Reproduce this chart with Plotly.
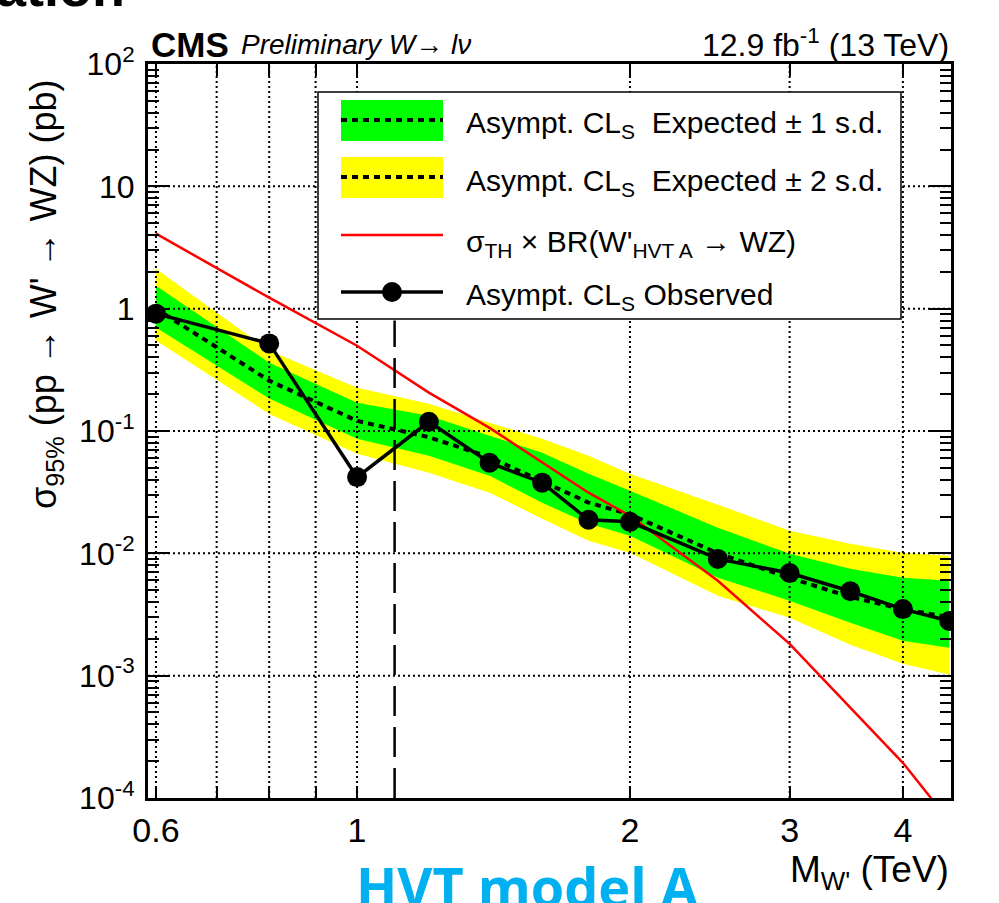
import math
import plotly.graph_objects as go

# ---------------- data ----------------
mass = [0.6, 0.8, 1.0, 1.2, 1.4, 1.6, 1.8, 2.0, 2.5, 3.0, 3.5, 4.0, 4.5]
observed = [0.91, 0.52, 0.042, 0.119, 0.055, 0.0378, 0.0188, 0.0181, 0.0090, 0.0069, 0.0049, 0.0035, 0.0028]
expected = [1.0, 0.258, 0.121, 0.089, 0.061, 0.039, 0.026, 0.0208, 0.0100, 0.0063, 0.0044, 0.0035, 0.0030]
exp_plus2 = [2.12, 0.454, 0.226, 0.167, 0.117, 0.0865, 0.0628, 0.0448, 0.0250, 0.0153, 0.0120, 0.0101, 0.00955]
exp_plus1 = [1.54, 0.362, 0.170, 0.133, 0.0916, 0.0665, 0.0448, 0.0325, 0.0162, 0.00993, 0.00748, 0.00632, 0.00597]
exp_minus1 = [0.70, 0.184, 0.0865, 0.0628, 0.0431, 0.0259, 0.0175, 0.0139, 0.00632, 0.00410, 0.00271, 0.00193, 0.00169]
exp_minus2 = [0.55, 0.138, 0.0652, 0.0456, 0.0313, 0.0192, 0.0127, 0.0101, 0.00450, 0.00297, 0.00179, 0.00125, 0.00102]
theory_mass = [0.6, 0.8, 1.0, 1.2, 1.4, 1.6, 1.8, 2.0, 2.5, 3.0, 3.5, 4.0, 4.5]
theory_xsec = [4.1, 1.23, 0.498, 0.206, 0.106, 0.0551, 0.0313, 0.0203, 0.00597, 0.00182, 0.000547, 0.000194, 0.000065]
mass_limit = 1.1
limit_line_y = [1e-4, 0.8]

x_range = [0.588, 4.52]
y_range = [1e-4, 1e2]
x_ticks = [0.6, 0.7, 0.8, 0.9, 1, 2, 3, 4]
x_ticktext = ["0.6", "", "", "", "1", "2", "3", "4"]
y_ticks = [1e-4, 1e-3, 1e-2, 1e-1, 1, 10, 100]
y_ticktext = ["10<sup>-4</sup>", "10<sup>-3</sup>", "10<sup>-2</sup>", "10<sup>-1</sup>", "1", "10", "10<sup>2</sup>"]
y_minor = [k * 10 ** d for d in range(-4, 2) for k in range(2, 10)]

# ---------------- geometry helpers (pixels -> paper) ----------------
W, H = 999, 903
L, R, T, B = 148, 951, 64, 798


def px(x):
    return (x - L) / (R - L)


def py(y):
    return (B - y) / (B - T)


FONT = "Liberation Sans, Arial, Helvetica, sans-serif"
YELLOW = "#FFFF00"
GREEN = "#00FF00"

fig = go.Figure()

# yellow band
fig.add_trace(go.Scatter(x=mass, y=exp_minus2, mode="lines", line=dict(width=0, color=YELLOW),
                         hoverinfo="skip"))
fig.add_trace(go.Scatter(x=mass, y=exp_plus2, mode="lines", line=dict(width=0, color=YELLOW),
                         fill="tonexty", fillcolor=YELLOW, hoverinfo="skip"))
# green band
fig.add_trace(go.Scatter(x=mass, y=exp_minus1, mode="lines", line=dict(width=0, color=GREEN),
                         hoverinfo="skip"))
fig.add_trace(go.Scatter(x=mass, y=exp_plus1, mode="lines", line=dict(width=0, color=GREEN),
                         fill="tonexty", fillcolor=GREEN, hoverinfo="skip"))

# dotted grid lines at the tick positions, drawn over the bands
grid_line = dict(color="black", width=2, dash="2px,3px")
for xv in x_ticks:
    fig.add_trace(go.Scatter(x=[xv, xv], y=y_range, mode="lines", line=grid_line, hoverinfo="skip"))
for yv in y_ticks[1:-1]:
    fig.add_trace(go.Scatter(x=x_range, y=[yv, yv], mode="lines", line=grid_line, hoverinfo="skip"))

# expected
fig.add_trace(go.Scatter(x=mass, y=expected, mode="lines",
                         line=dict(color="black", width=4, dash="6px,5px")))
# theory
fig.add_trace(go.Scatter(x=theory_mass, y=theory_xsec, mode="lines",
                         line=dict(color="#FF0000", width=2.5)))
# mass limit dashed line
fig.add_trace(go.Scatter(x=[mass_limit, mass_limit], y=limit_line_y, mode="lines",
                         line=dict(color="black", width=2.5, dash="30px,11px")))
# observed
fig.add_trace(go.Scatter(x=mass, y=observed, mode="lines+markers",
                         line=dict(color="black", width=3.5),
                         marker=dict(color="black", size=20, symbol="circle")))

shapes = []
# legend box
shapes.append(dict(type="rect", xref="paper", yref="paper", x0=px(318), x1=px(901), y0=py(319), y1=py(92),
                   line=dict(color="black", width=1.5), fillcolor="white", layer="above"))
# legend glyphs
gx0, gx1 = px(341), px(443)
shapes.append(dict(type="rect", xref="paper", yref="paper", x0=gx0, x1=gx1, y0=py(141), y1=py(100),
                   line=dict(width=0), fillcolor=GREEN, layer="above"))
shapes.append(dict(type="line", xref="paper", yref="paper", x0=gx0, x1=gx1, y0=py(120), y1=py(120),
                   line=dict(color="black", width=4, dash="6px,5px"), layer="above"))
shapes.append(dict(type="rect", xref="paper", yref="paper", x0=gx0, x1=gx1, y0=py(198), y1=py(157),
                   line=dict(width=0), fillcolor=YELLOW, layer="above"))
shapes.append(dict(type="line", xref="paper", yref="paper", x0=gx0, x1=gx1, y0=py(177), y1=py(177),
                   line=dict(color="black", width=4, dash="6px,5px"), layer="above"))
shapes.append(dict(type="line", xref="paper", yref="paper", x0=gx0, x1=gx1, y0=py(235), y1=py(235),
                   line=dict(color="#FF0000", width=2.5), layer="above"))
shapes.append(dict(type="line", xref="paper", yref="paper", x0=gx0, x1=gx1, y0=py(292), y1=py(292),
                   line=dict(color="black", width=3.5), layer="above"))
shapes.append(dict(type="circle", xref="paper", yref="paper", x0=px(382), x1=px(402), y0=py(302), y1=py(282),
                   line=dict(color="black", width=0), fillcolor="black", layer="above"))

annotations = []


def ann(text, x, y, size, xanchor="left", yanchor="middle", color="black", family=FONT, angle=0):
    annotations.append(dict(text=text, x=px(x), y=py(y), xref="paper", yref="paper", showarrow=False,
                            xanchor=xanchor, yanchor=yanchor, textangle=angle,
                            font=dict(size=size, color=color, family=family)))


leg_size = 30
ann("Asympt. CL<sub>S</sub>  Expected ± 1 s.d.", 464, 125, leg_size)
ann("Asympt. CL<sub>S</sub>  Expected ± 2 s.d.", 464, 182, leg_size)
ann("σ<sub>TH</sub> × BR(W'<sub>HVT A</sub> → WZ)", 464, 243, leg_size)
ann("Asympt. CL<sub>S</sub> Observed", 464, 296, leg_size)

ann("<b>CMS</b>", 149, 44, 35)
ann("<i>Preliminary W→ lν</i>", 239, 45, 28)
ann("12.9 fb<sup>-1</sup> (13 TeV)", 951, 43, 32, xanchor="right")
ann("M<sub>W'</sub> (TeV)", 951, 872, 37, xanchor="right")
ann("σ<sub>95%</sub> (pp → W' → WZ) (pb)", 46, 294, 36, xanchor="center", angle=-90)
ann("<b>HVT model A</b>", 527, 886, 54, xanchor="center", color="#00B0F0", family="Open Sans, sans-serif")
ann("<b>ation</b>", -6, 19, 54, yanchor="bottom")

fig.update_layout(
    width=W, height=H,
    margin=dict(l=L, r=W - R, t=T, b=H - B, pad=0),
    paper_bgcolor="white", plot_bgcolor="white",
    showlegend=False,
    shapes=shapes, annotations=annotations,
    font=dict(family=FONT, color="black"),
    xaxis=dict(type="log", range=[math.log10(x_range[0]), math.log10(x_range[1])],
               tickmode="array", tickvals=x_ticks, ticktext=x_ticktext,
               ticks="inside", ticklen=12, tickwidth=2, tickcolor="black",
               showline=True, linewidth=3, linecolor="black", mirror="ticks",
               showgrid=False, zeroline=False, tickfont=dict(size=34, family=FONT, color="black"),
               layer="above traces"),
    yaxis=dict(type="log", range=[-4, 2],
               tickmode="array", tickvals=y_ticks, ticktext=y_ticktext,
               ticks="inside", ticklen=22, tickwidth=2, tickcolor="black",
               minor=dict(tickmode="array", tickvals=y_minor, ticks="inside", ticklen=11,
                          tickwidth=2, tickcolor="black", showgrid=False),
               showline=True, linewidth=3, linecolor="black", mirror="ticks",
               showgrid=False, zeroline=False, tickfont=dict(size=32, family=FONT, color="black"),
               ticklabelstandoff=4, layer="above traces"),
)

fig.write_html("out.html")
